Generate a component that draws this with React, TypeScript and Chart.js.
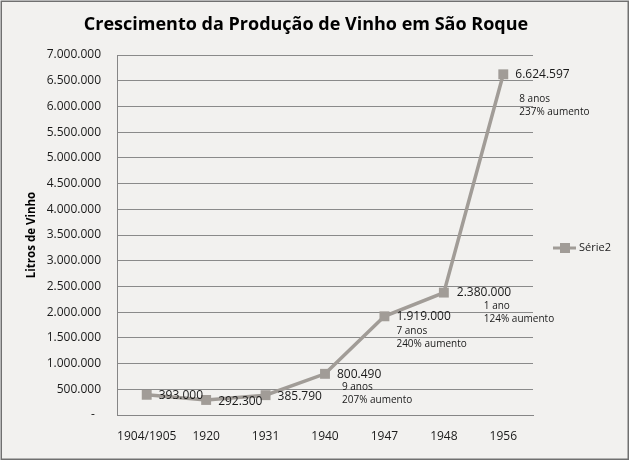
import React, { useEffect, useRef } from "react";
import { Chart, registerables } from "chart.js";

Chart.register(...registerables);

const chartTitle = "Crescimento da Produção de Vinho em São Roque";
const yAxisTitle = "Litros de Vinho";
const seriesName = "Série2";
const categories = ["1904/1905", "1920", "1931", "1940", "1947", "1948", "1956"];
const production = [393000, 292300, 385790, 800490, 1919000, 2380000, 6624597];
const notes: string[][] = [
  [],
  [],
  [],
  ["9 anos", "207% aumento"],
  ["7 anos", "240% aumento"],
  ["1 ano", "124% aumento"],
  ["8 anos", "237% aumento"],
];

const fmt = (v: number) =>
  v === 0 ? "-  " : Math.round(v).toString().replace(/\B(?=(\d{3})+(?!\d))/g, ".");

const LINE_COLOR = "#a19c97";
const FONT = "'Open Sans', 'Noto Sans', sans-serif";

// label layout offsets (dx, dy for value label; dx, dy for note lines)
const noteLayout = [
  { vx: 12, vy: 1, nx: 0, ny: 0 },
  { vx: 12, vy: 2, nx: 0, ny: 0 },
  { vx: 12, vy: 1, nx: 0, ny: 0 },
  { vx: 12, vy: 1, nx: 17, ny: 13 },
  { vx: 12, vy: 0, nx: 12, ny: 15 },
  { vx: 13, vy: 0, nx: 40, ny: 14 },
  { vx: 12, vy: 0, nx: 16, ny: 25 },
];

const decorPlugin = {
  id: "decor",
  beforeDraw(chart: any) {
    const ctx = chart.ctx;
    ctx.save();
    ctx.fillStyle = "#ffffff";
    ctx.fillRect(0, 0, chart.width, chart.height);
    ctx.fillStyle = "#f2f1ef";
    ctx.fillRect(1, 1, 627, 458);
    ctx.strokeStyle = "#707070";
    ctx.lineWidth = 1.5;
    ctx.strokeRect(1.25, 1.25, 627, 458);
    // title
    ctx.fillStyle = "#000";
    ctx.font = `bold 18px ${FONT}`;
    ctx.textAlign = "center";
    ctx.textBaseline = "middle";
    ctx.fillText(chartTitle, 306, 25);
    // y axis title
    ctx.translate(32, 235);
    ctx.rotate(-Math.PI / 2);
    ctx.font = `bold 11.5px ${FONT}`;
    ctx.fillText(yAxisTitle, 0, 0);
    ctx.restore();
  },
  afterDatasetsDraw(chart: any) {
    const ctx = chart.ctx;
    const meta = chart.getDatasetMeta(0);
    ctx.save();
    ctx.fillStyle = "#1a1a1a";
    ctx.textAlign = "left";
    ctx.textBaseline = "middle";
    meta.data.forEach((pt: any, i: number) => {
      const L = noteLayout[i];
      ctx.font = `12px ${FONT}`;
      ctx.fillText(fmt(production[i]), pt.x + L.vx, pt.y + L.vy);
      ctx.font = `10px ${FONT}`;
      notes[i].forEach((line, j) => {
        ctx.fillText(line, pt.x + L.nx, pt.y + L.ny + j * 13);
      });
    });
    // legend
    const ly = 248;
    ctx.strokeStyle = LINE_COLOR;
    ctx.lineWidth = 3;
    ctx.beginPath();
    ctx.moveTo(553, ly);
    ctx.lineTo(576, ly);
    ctx.stroke();
    ctx.fillStyle = LINE_COLOR;
    ctx.fillRect(560, ly - 5, 10, 10);
    ctx.fillStyle = "#1a1a1a";
    ctx.font = `11px ${FONT}`;
    ctx.fillText(seriesName, 579, ly);
    ctx.restore();
  },
};

export default function App() {
  const ref = useRef<HTMLCanvasElement>(null);
  useEffect(() => {
    if (!ref.current) return;
    const chart = new Chart(ref.current, {
      type: "line",
      data: {
        labels: categories,
        datasets: [
          {
            label: seriesName,
            data: production,
            borderColor: LINE_COLOR,
            backgroundColor: LINE_COLOR,
            borderWidth: 3.5,
            pointStyle: "rect",
            pointRadius: 7,
            pointBorderWidth: 0,
            pointBackgroundColor: LINE_COLOR,
            tension: 0,
          },
        ],
      },
      plugins: [decorPlugin],
      options: {
        animation: false,
        responsive: false,
        devicePixelRatio: 1,
        layout: { padding: { left: 0, right: 99, top: 55, bottom: 0 } },
        plugins: {
          legend: { display: false },
          title: { display: false },
          tooltip: { enabled: false },
        },
        scales: {
          x: {
            offset: true,
            grid: { display: false, drawTicks: false },
            border: { display: true, color: "#868686", width: 1 },
            ticks: {
              color: "#1a1a1a",
              font: { family: FONT, size: 12 },
              padding: 14,
              maxRotation: 0,
              autoSkip: false,
            },
            afterFit(scale: any) {
              scale.height = 46;
            },
          },
          y: {
            min: 0,
            max: 7000000,
            grid: { color: "#8a8a8a", drawTicks: false, lineWidth: 1 },
            border: { display: true, color: "#868686", width: 1 },
            ticks: {
              stepSize: 500000,
              color: "#1a1a1a",
              font: { family: FONT, size: 12 },
              padding: 16,
              callback: (v: any) => fmt(Number(v)),
            },
            afterFit(scale: any) {
              scale.width = 117;
            },
          },
        },
      },
    });
    return () => chart.destroy();
  }, []);
  return (
    <div style={{ position: "absolute", left: 0, top: 0, width: 632, height: 461 }}>
      <canvas ref={ref} width={632} height={461} style={{ display: "block" }} />
    </div>
  );
}
